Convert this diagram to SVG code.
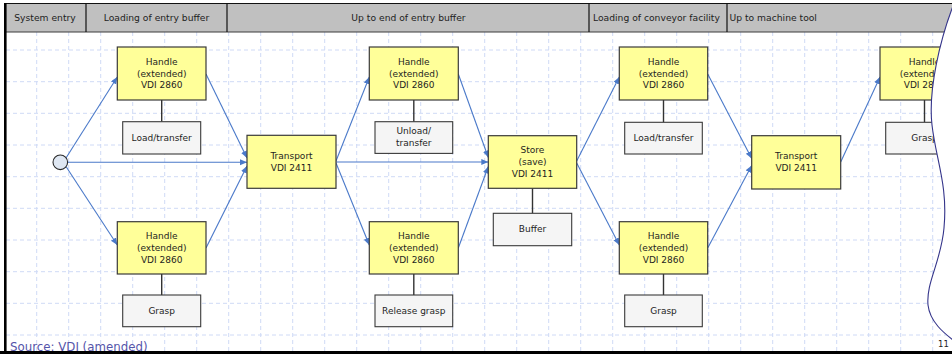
<svg xmlns="http://www.w3.org/2000/svg" width="952" height="354" viewBox="0 0 952 354">
  <defs>
    <style>
      text { font-family: "DejaVu Sans", "Liberation Sans", sans-serif; fill: #1e1e1e; }
      .hdr { font-size: 9.2px; }
      .lbl { font-size: 9px; text-anchor: middle; }
      .grid { stroke: #cfdaf6; stroke-width: 1; stroke-dasharray: 4 3; fill: none; }
      .proc { fill: #ffff99; stroke: #3a3a3a; stroke-width: 1.2; }
      .sub { fill: #f5f5f5; stroke: #3a3a3a; stroke-width: 1.1; }
      .flow { stroke: #4a79c9; stroke-width: 1.1; fill: none; marker-end: url(#arrow); }
      .link { stroke: #333333; stroke-width: 1.4; }
      .sep { stroke: #111111; stroke-width: 1.2; }
    </style>
    <marker id="arrow" markerUnits="userSpaceOnUse" markerWidth="8" markerHeight="8" refX="7" refY="3" orient="auto">
      <path d="M0,0 L7,3 L0,6 Z" fill="#4a79c9"/>
    </marker>
  </defs>

  <rect x="0" y="0" width="952" height="354" fill="#ffffff"/>

  <!-- background grid -->
  <g id="grid">
    <path class="grid" d="M36.7,32V351 M68.7,32V351 M100.7,32V351 M132.7,32V351 M164.7,32V351 M196.7,32V351 M228.7,32V351 M260.7,32V351 M292.7,32V351 M324.7,32V351 M356.7,32V351 M388.7,32V351 M420.7,32V351 M452.7,32V351 M484.7,32V351 M516.7,32V351 M548.7,32V351 M580.7,32V351 M612.7,32V351 M644.7,32V351 M676.7,32V351 M708.7,32V351 M740.7,32V351 M772.7,32V351 M804.7,32V351 M836.7,32V351 M868.7,32V351 M900.7,32V351 M932.7,32V351"/>
    <path class="grid" d="M6,50H952 M6,81.7H952 M6,113.3H952 M6,145H952 M6,176.7H952 M6,208.3H952 M6,240H952 M6,271.7H952 M6,303.3H952 M6,335H952"/>
  </g>

  <!-- phase header -->
  <g id="header">
    <rect x="6" y="3.5" width="946" height="28.5" fill="#c0c0c0"/>
    <line x1="5" y1="3.5" x2="952" y2="3.5" class="sep"/>
    <line x1="6" y1="32" x2="952" y2="32" stroke="#3c3c3c" stroke-width="1.2"/>
    <line x1="86" y1="3.5" x2="86" y2="32" class="sep"/>
    <line x1="227" y1="3.5" x2="227" y2="32" class="sep"/>
    <line x1="589" y1="3.5" x2="589" y2="32" class="sep"/>
    <line x1="727" y1="3.5" x2="727" y2="32" class="sep"/>
    <text class="hdr" x="45" y="20.6" text-anchor="middle">System entry</text>
    <text class="hdr" x="156.5" y="20.6" text-anchor="middle">Loading of entry buffer</text>
    <text class="hdr" x="408.5" y="20.6" text-anchor="middle">Up to end of entry buffer</text>
    <text class="hdr" x="593" y="20.6">Loading of conveyor facility</text>
    <text class="hdr" x="729.5" y="20.6">Up to machine tool</text>
  </g>

  <!-- flow connectors -->
  <g id="connectors">
    <path class="flow" d="M66,158 L117.3,77"/>
    <path class="flow" d="M67.6,162.3 L247,162.3"/>
    <path class="flow" d="M66,166.5 L117.3,245"/>
    <path class="flow" d="M206,74 L247,158"/>
    <path class="flow" d="M206,248 L247,166"/>
    <path class="flow" d="M336,161 L369.3,77"/>
    <path class="flow" d="M336,162 L488.3,162"/>
    <path class="flow" d="M336,163 L369.3,245"/>
    <path class="flow" d="M458.3,74 L488.3,157.5"/>
    <path class="flow" d="M458.3,248 L488.3,166.5"/>
    <path class="flow" d="M576.7,161 L619.3,77"/>
    <path class="flow" d="M576.7,163 L619.3,245"/>
    <path class="flow" d="M707.7,74 L751.7,158.5"/>
    <path class="flow" d="M707.7,248 L751.7,165.5"/>
    <path class="flow" d="M840.7,162 L880,77"/>

    <line class="link" x1="161.7" y1="100" x2="161.7" y2="121.7"/>
    <line class="link" x1="161.7" y1="274" x2="161.7" y2="295"/>
    <line class="link" x1="413.8" y1="100" x2="413.8" y2="121.7"/>
    <line class="link" x1="413.8" y1="274" x2="413.8" y2="295"/>
    <line class="link" x1="532.5" y1="188.3" x2="532.5" y2="213.3"/>
    <line class="link" x1="663.5" y1="100" x2="663.5" y2="122.3"/>
    <line class="link" x1="663.5" y1="274" x2="663.5" y2="295"/>
    <line class="link" x1="924.5" y1="100" x2="924.5" y2="122.3"/>
  </g>

  <!-- start event -->
  <g id="start">
    <circle cx="60.3" cy="162.3" r="7.3" fill="#dfe7f2" stroke="#2a2a2a" stroke-width="1.1"/>
  </g>

  <!-- column 1 -->
  <g id="handle-1a">
    <rect class="proc" x="117.3" y="47" width="88.7" height="53"/>
    <text class="lbl" x="161.7" y="65">Handle</text>
    <text class="lbl" x="161.7" y="76.6">(extended)</text>
    <text class="lbl" x="161.7" y="88.3">VDI 2860</text>
  </g>
  <g id="load-1">
    <rect class="sub" x="122.7" y="121.7" width="78" height="32.3"/>
    <text class="lbl" x="161.7" y="140.6">Load/transfer</text>
  </g>
  <g id="handle-1b">
    <rect class="proc" x="117.3" y="221.7" width="88.7" height="52.3"/>
    <text class="lbl" x="161.7" y="239">Handle</text>
    <text class="lbl" x="161.7" y="250.6">(extended)</text>
    <text class="lbl" x="161.7" y="262.6">VDI 2860</text>
  </g>
  <g id="grasp-1">
    <rect class="sub" x="122.7" y="295" width="78" height="31.7"/>
    <text class="lbl" x="161.7" y="314">Grasp</text>
  </g>

  <g id="transport-1">
    <rect class="proc" x="247" y="135.3" width="89" height="53"/>
    <text class="lbl" x="291.5" y="159">Transport</text>
    <text class="lbl" x="291.5" y="171">VDI 2411</text>
  </g>

  <!-- column 2 -->
  <g id="handle-2a">
    <rect class="proc" x="369.3" y="47" width="89" height="53"/>
    <text class="lbl" x="413.8" y="65">Handle</text>
    <text class="lbl" x="413.8" y="76.6">(extended)</text>
    <text class="lbl" x="413.8" y="88.3">VDI 2860</text>
  </g>
  <g id="unload-2">
    <rect class="sub" x="375" y="121.7" width="77.7" height="31.7"/>
    <text class="lbl" x="413.8" y="134">Unload/</text>
    <text class="lbl" x="413.8" y="145.6">transfer</text>
  </g>
  <g id="handle-2b">
    <rect class="proc" x="369.3" y="221.7" width="89" height="52.3"/>
    <text class="lbl" x="413.8" y="239">Handle</text>
    <text class="lbl" x="413.8" y="250.6">(extended)</text>
    <text class="lbl" x="413.8" y="262.6">VDI 2860</text>
  </g>
  <g id="release-2">
    <rect class="sub" x="375" y="295" width="77.7" height="31.7"/>
    <text class="lbl" x="413.8" y="314">Release grasp</text>
  </g>

  <g id="store">
    <rect class="proc" x="488.3" y="135.7" width="88.4" height="52.6"/>
    <text class="lbl" x="532.5" y="153.3">Store</text>
    <text class="lbl" x="532.5" y="165.3">(save)</text>
    <text class="lbl" x="532.5" y="176.6">VDI 2411</text>
  </g>
  <g id="buffer">
    <rect class="sub" x="493.3" y="213.3" width="78.4" height="32.4"/>
    <text class="lbl" x="532.5" y="231.6">Buffer</text>
  </g>

  <!-- column 3 -->
  <g id="handle-3a">
    <rect class="proc" x="619.3" y="47" width="88.4" height="53"/>
    <text class="lbl" x="663.5" y="65">Handle</text>
    <text class="lbl" x="663.5" y="76.6">(extended)</text>
    <text class="lbl" x="663.5" y="88.3">VDI 2860</text>
  </g>
  <g id="load-3">
    <rect class="sub" x="624.7" y="122.3" width="77.6" height="31.7"/>
    <text class="lbl" x="663.5" y="141">Load/transfer</text>
  </g>
  <g id="handle-3b">
    <rect class="proc" x="619.3" y="221.7" width="88.4" height="52.3"/>
    <text class="lbl" x="663.5" y="239">Handle</text>
    <text class="lbl" x="663.5" y="250.6">(extended)</text>
    <text class="lbl" x="663.5" y="262.6">VDI 2860</text>
  </g>
  <g id="grasp-3">
    <rect class="sub" x="624.7" y="295" width="77.6" height="31.7"/>
    <text class="lbl" x="663.5" y="314">Grasp</text>
  </g>

  <g id="transport-2">
    <rect class="proc" x="751.7" y="135.7" width="89" height="53.3"/>
    <text class="lbl" x="796.2" y="159">Transport</text>
    <text class="lbl" x="796.2" y="171">VDI 2411</text>
  </g>

  <!-- column 4 -->
  <g id="handle-4a">
    <rect class="proc" x="880" y="47" width="89" height="53"/>
    <text class="lbl" x="924.5" y="65">Handle</text>
    <text class="lbl" x="924.5" y="76.6">(extended)</text>
    <text class="lbl" x="924.5" y="88.3">VDI 2860</text>
  </g>
  <g id="grasp-4">
    <rect class="sub" x="885.7" y="122.3" width="78" height="31.7"/>
    <text class="lbl" x="924.5" y="141">Grasp</text>
  </g>

  <!-- wavy overlay on the right edge -->
  <path id="overlay" d="M953,6 C940,40 928,90 932,125 C936,160 948,185 944,228 C941,262 926,282 928,305 C930,322 944,333 953,340 L960,340 L960,6 Z" fill="#ffffff" stroke="#34348a" stroke-width="1.1"/>

  <!-- frame -->
  <g id="frame">
    <line x1="5.3" y1="3" x2="5.3" y2="354" stroke="#000000" stroke-width="2.6"/>
  </g>

  <text x="10" y="350.5" font-size="11.8" style="fill:#5555aa">Source: VDI (amended)</text>
  <text x="938" y="346.7" font-size="8.5" style="fill:#222222">11</text>
  <rect x="0" y="351" width="952" height="3" fill="#000000"/>
</svg>
